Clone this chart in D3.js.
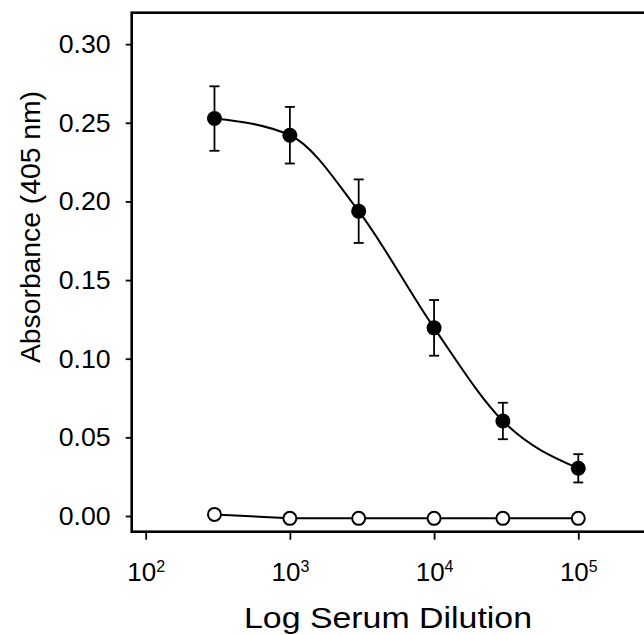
<!DOCTYPE html>
<html>
<head>
<meta charset="utf-8">
<script src="https://cdn.jsdelivr.net/npm/d3@7"></script>
<style>
  body { margin: 0; background: #fff; }
  text { font-family: "Liberation Sans", Arial, sans-serif; fill: #000; }
</style>
</head>
<body>
<div id="chart"></div>
<script>
// serum dilutions (x) and absorbance readings
var dilution = [300, 1000, 3000, 10000, 30000, 100000];
var immune = [0.2527, 0.2421, 0.1938, 0.1196, 0.0604, 0.0303];
var immuneErr = [0.0205, 0.018, 0.0202, 0.0177, 0.0116, 0.009];
var control = [0.001, -0.0015, -0.0015, -0.0015, -0.0015, -0.0015];
var yTicks = [0, 0.05, 0.10, 0.15, 0.20, 0.25, 0.30];
var xTicks = [100, 1000, 10000, 100000];

var W = 644, H = 635;
var plotL = 131.7, plotT = 12.7, plotB = 531.7, plotR = 665.1;

var svg = d3.select("#chart")
    .append("svg")
    .attr("width", W)
    .attr("height", H)

var x = d3.scaleLog().domain([80, 400000]).range([plotL, plotR]);
var y = d3.scaleLinear().domain([-0.01, 0.32]).range([plotB, plotT]);

// frame (right side runs off the picture)
svg.append("rect")
    .attr("x", plotL)
    .attr("y", plotT)
    .attr("width", plotR - plotL)
    .attr("height", plotB - plotT)
    .attr("fill", "none")
    .attr("stroke", "#000")
    .attr("stroke-width", 2.6);

var yAxis = svg.append("g")
    .attr("transform", "translate(" + plotL + ",0)")
    .call(d3.axisLeft(y).tickValues(yTicks).tickSize(6).tickPadding(15).tickFormat(d3.format(".2f")));
yAxis.select(".domain").remove();
yAxis.selectAll("line").attr("stroke-width", 1.8);
yAxis.selectAll("text")
    .attr("font-size", 26)
    .attr("textLength", 52)
    .attr("lengthAdjust", "spacingAndGlyphs");

var xAxis = svg.append("g")
    .attr("transform", "translate(0," + plotB + ")")
    .call(d3.axisBottom(x).tickValues(xTicks).tickSize(8).tickFormat(""));
xAxis.select(".domain").remove();
xAxis.selectAll("line").attr("stroke-width", 1.8);
xAxis.selectAll(".tick").each(function(d) {
    var t = d3.select(this).append("text")
        .attr("y", 49)
        .attr("text-anchor", "middle")
        .attr("font-size", 26)
        .attr("fill", "#000");
    t.append("tspan").text("10");
    t.append("tspan").attr("dy", -9).attr("font-size", 16).text(Math.round(Math.log10(d)));
});

// axis titles
svg.append("text")
    .attr("transform", "translate(40,227) rotate(-90)")
    .attr("text-anchor", "middle")
    .attr("font-size", 27)
    .attr("textLength", 272)
    .attr("lengthAdjust", "spacingAndGlyphs")
    .text("Absorbance (405 nm)");

svg.append("text")
    .attr("x", 388)
    .attr("y", 628)
    .attr("text-anchor", "middle")
    .attr("font-size", 29)
    .attr("textLength", 288)
    .attr("lengthAdjust", "spacingAndGlyphs")
    .text("Log Serum Dilution");

// control series, straight segments
var ctrl = dilution.map(function(d, i) { return [d, control[i]]; });
svg.append("path")
    .datum(ctrl)
    .attr("fill", "none")
    .attr("stroke", "#000")
    .attr("stroke-width", 2)
    .attr("d", d3.line().x(function(d) { return x(d[0]); }).y(function(d) { return y(d[1]); }));

// immune series, smooth curve
var imm = dilution.map(function(d, i) { return [d, immune[i], immuneErr[i]]; });
svg.append("path")
    .datum(imm)
    .attr("fill", "none")
    .attr("stroke", "#000")
    .attr("stroke-width", 2)
    .attr("d", d3.line().curve(d3.curveMonotoneX)
        .x(function(d) { return x(d[0]); }).y(function(d) { return y(d[1]); }));

var eb = svg.selectAll(".err")
    .data(imm)
    .enter()
    .append("g")
    .attr("class", "err")
    .attr("stroke", "#000")
    .attr("stroke-width", 1.8);
eb.append("line")
    .attr("x1", function(d) { return x(d[0]); })
    .attr("x2", function(d) { return x(d[0]); })
    .attr("y1", function(d) { return y(d[1] + d[2]); })
    .attr("y2", function(d) { return y(d[1] - d[2]); });
eb.append("line")
    .attr("x1", function(d) { return x(d[0]) - 5; })
    .attr("x2", function(d) { return x(d[0]) + 5; })
    .attr("y1", function(d) { return y(d[1] + d[2]); })
    .attr("y2", function(d) { return y(d[1] + d[2]); });
eb.append("line")
    .attr("x1", function(d) { return x(d[0]) - 5; })
    .attr("x2", function(d) { return x(d[0]) + 5; })
    .attr("y1", function(d) { return y(d[1] - d[2]); })
    .attr("y2", function(d) { return y(d[1] - d[2]); });

svg.selectAll(".dot-imm")
    .data(imm)
    .enter()
    .append("circle")
    .attr("cx", function(d) { return x(d[0]); })
    .attr("cy", function(d) { return y(d[1]); })
    .attr("r", 7.5)
    .attr("fill", "#000");

svg.selectAll(".dot-ctrl")
    .data(ctrl)
    .enter()
    .append("circle")
    .attr("cx", function(d) { return x(d[0]); })
    .attr("cy", function(d) { return y(d[1]); })
    .attr("r", 6.5)
    .attr("fill", "#fff")
    .attr("stroke", "#000")
    .attr("stroke-width", 2);
</script>
</body>
</html>
